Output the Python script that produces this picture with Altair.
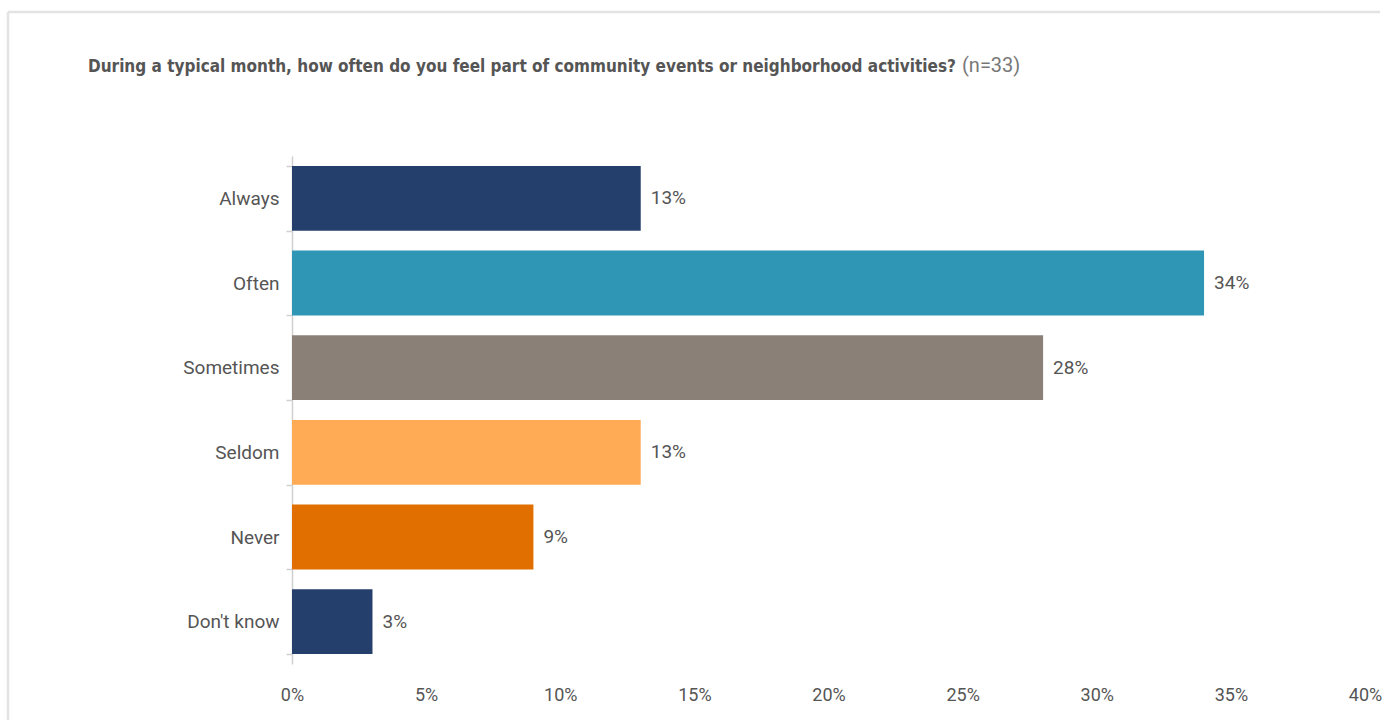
import altair as alt
import pandas as pd

categories = ["Always", "Often", "Sometimes", "Seldom", "Never", "Don't know"]
values = [13, 34, 28, 13, 9, 3]
colors = ["#243f6b", "#3096b6", "#8b8077", "#ffaa55", "#e16f00", "#243f6b"]
x_ticks = [0, 5, 10, 15, 20, 25, 30, 35, 40]

title_main = "During a typical month, how often do you feel part of community events or neighborhood activities?"
title_n = "(n=33)"

df = pd.DataFrame({"cat": categories, "val": values,
                   "label": [f"{v}%" for v in values]})

W, H = 1073, 508
LABEL_FONT = "Roboto"
TEXT_COL = "#555555"

y_enc = alt.Y("cat:N", sort=categories, title=None,
              scale=alt.Scale(paddingInner=0.235, paddingOuter=0.1175),
              axis=alt.Axis(domainColor="#d0d0d0", domainWidth=1.5,
                            tickColor="#d0d0d0", tickWidth=1.5, tickSize=6,
                            tickBand="extent", labelFont=LABEL_FONT,
                            labelFontSize=19, labelColor=TEXT_COL,
                            labelPadding=7, grid=False))
x_enc = alt.X("val:Q", title=None, scale=alt.Scale(domain=[0, 40]),
              axis=alt.Axis(values=x_ticks, labelExpr="datum.value + '%'",
                            domain=False, ticks=False, grid=False,
                            labelFlush=False,
                            labelFont=LABEL_FONT, labelFontSize=18,
                            labelColor=TEXT_COL, labelPadding=22))

base = alt.Chart(df)
bars = base.mark_bar().encode(
    x=x_enc, y=y_enc,
    color=alt.Color("cat:N", scale=alt.Scale(domain=categories, range=colors),
                    legend=None))
labels = base.mark_text(align="left", baseline="middle", dx=10,
                        font=LABEL_FONT, fontSize=19, color=TEXT_COL).encode(
    x="val:Q", y=alt.Y("cat:N", sort=categories), text="label:N")

deco = alt.Chart(pd.DataFrame({"d": [0]}))
top_rule = deco.mark_rule(color="#e3e3e3", strokeWidth=2.5).encode(
    x=alt.value(-284), x2=alt.value(1088), y=alt.value(-144))
left_rule = deco.mark_rule(color="#e3e3e3", strokeWidth=2.5).encode(
    x=alt.value(-284), y=alt.value(-144), y2=alt.value(564))
t_main = deco.mark_text(align="left", baseline="alphabetic",
                        font="DejaVu Sans Condensed", fontWeight="bold",
                        fontSize=17, color=TEXT_COL).encode(
    x=alt.value(-204), y=alt.value(-84), text=alt.value(title_main))
t_n = deco.mark_text(align="left", baseline="alphabetic",
                     font=LABEL_FONT, fontSize=20, color="#777777").encode(
    x=alt.value(670), y=alt.value(-84), text=alt.value(title_n))

chart = alt.layer(top_rule, left_rule, bars, labels, t_main, t_n).properties(
    width=W, height=H,
    padding={"left": 6, "top": 10, "right": 0, "bottom": 0}
).configure_view(stroke=None)

chart.save("out.html", embed_options={"renderer": "svg", "actions": False})
